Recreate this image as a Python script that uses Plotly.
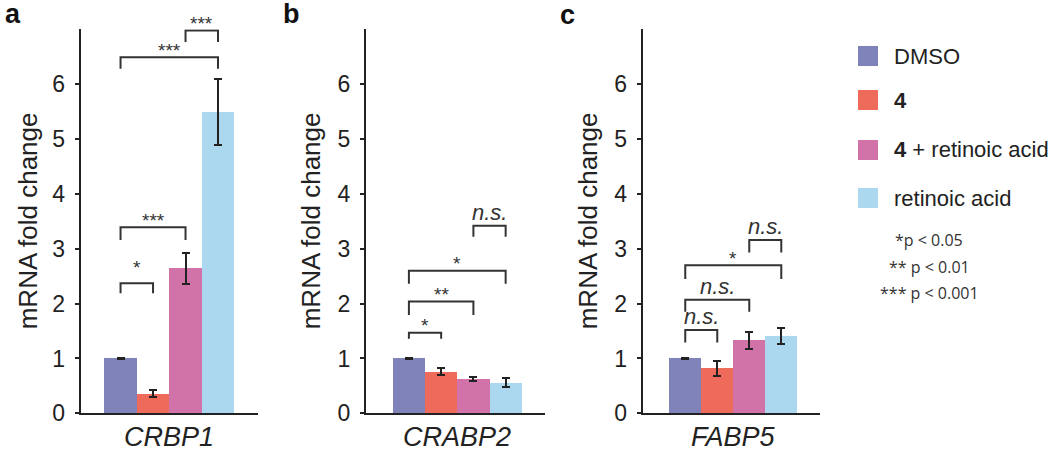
import plotly.graph_objects as go

W, H = 1050, 457

conditions = ["DMSO", "4", "4 + retinoic acid", "retinoic acid"]
legend_labels = ["DMSO", "<b>4</b>", "<b>4</b> + retinoic acid", "retinoic acid"]
genes = ["CRBP1", "CRABP2", "FABP5"]
panel_letters = ["a", "b", "c"]

crbp1_mean = [1.00, 0.36, 2.64, 5.49]
crbp1_err = [0.01, 0.07, 0.28, 0.60]
crabp2_mean = [1.00, 0.76, 0.63, 0.56]
crabp2_err = [0.01, 0.07, 0.04, 0.085]
fabp5_mean = [1.00, 0.82, 1.33, 1.41]
fabp5_err = [0.01, 0.14, 0.15, 0.14]

bracket_pairs = [(0, 1), (0, 2), (0, 3), (2, 3)]
crbp1_top = [2.37, 3.39, 6.49, 6.98]
crbp1_leg = [2.19, 3.16, 6.28, 6.77]
crbp1_sig = ["*", "***", "***", "***"]
crabp2_top = [1.47, 2.04, 2.60, 3.42]
crabp2_leg = [1.36, 1.79, 2.36, 3.22]
crabp2_sig = ["*", "**", "*", "n.s."]
fabp5_top = [1.52, 2.07, 2.70, 3.16]
fabp5_leg = [1.29, 1.85, 2.45, 2.93]
fabp5_sig = ["n.s.", "n.s.", "*", "n.s."]

pvalue_notes = ["*p < 0.05", "** p < 0.01", "*** p < 0.001"]

colors = ["#7f83b9", "#ee6b5b", "#d173a8", "#acd8ef"]
ink = "#222222"
FONT = "Liberation Sans, Arial, sans-serif"

means = [crbp1_mean, crabp2_mean, fabp5_mean]
errs = [crbp1_err, crabp2_err, fabp5_err]
tops = [crbp1_top, crabp2_top, fabp5_top]
legs = [crbp1_leg, crabp2_leg, fabp5_leg]
sigs = [crbp1_sig, crabp2_sig, fabp5_sig]

# layout (pixel geometry)
axis_px = [(80.7, 258.0), (366.0, 545.0), (642.7, 820.0)]
xranges = [[-1.226, 4.23], [-1.33, 4.22], [-1.33, 4.21]]
y_bottom_px, y_top_px = 413.3, 29.3
ytitle_px = [28, 311, 588]
letter_px = [(13, 14), (291, 14), (567, 15)]

def px(x):
    return x / W

def py(y):
    return 1 - y / H

fig = go.Figure()
layout = dict(
    width=W, height=H,
    margin=dict(l=0, r=0, t=0, b=0, pad=0),
    paper_bgcolor="white", plot_bgcolor="white",
    showlegend=False,
    font=dict(family=FONT, color=ink),
    bargap=0,
)
annotations = []
shapes = []
xpos = [0, 1, 2, 3]

for k in range(3):
    xa = "x" if k == 0 else f"x{k+1}"
    ya = "y" if k == 0 else f"y{k+1}"
    xkey = "xaxis" if k == 0 else f"xaxis{k+1}"
    ykey = "yaxis" if k == 0 else f"yaxis{k+1}"
    fig.add_trace(go.Bar(
        x=xpos, y=means[k], width=1.0,
        marker=dict(color=colors, line=dict(width=0)),
        error_y=dict(type="data", array=errs[k], visible=True,
                     color=ink, thickness=2, width=4),
        xaxis=xa, yaxis=ya, showlegend=False,
    ))
    layout[xkey] = dict(
        domain=[px(axis_px[k][0]), px(axis_px[k][1])],
        range=xranges[k], anchor=ya, automargin=False,
        showline=True, linecolor=ink, linewidth=2,
        showticklabels=False, ticks="", showgrid=False, zeroline=False,
        fixedrange=True,
    )
    layout[ykey] = dict(
        domain=[py(y_bottom_px), py(y_top_px)],
        range=[0, 7.0], anchor=xa, automargin=False,
        showline=True, linecolor=ink, linewidth=2,
        tickvals=[0, 1, 2, 3, 4, 5, 6], ticks="outside", ticklen=4,
        tickwidth=2, tickcolor=ink, ticklabelstandoff=5,
        tickfont=dict(size=23, color=ink, family=FONT),
        showgrid=False, zeroline=False, fixedrange=True,
    )
    # y title
    annotations.append(dict(
        text="mRNA fold change", textangle=-90,
        x=px(ytitle_px[k]), y=py((y_bottom_px + y_top_px) / 2),
        xref="paper", yref="paper", xanchor="center", yanchor="middle",
        showarrow=False, font=dict(size=26, color=ink, family=FONT),
    ))
    # gene label
    annotations.append(dict(
        text=f"<i>{genes[k]}</i>", x=1.5, y=py(437),
        xref=xa, yref="paper", xanchor="center", yanchor="middle",
        showarrow=False, font=dict(size=27, color=ink, family=FONT),
    ))
    # panel letter
    annotations.append(dict(
        text=f"<b>{panel_letters[k]}</b>", x=px(letter_px[k][0]), y=py(letter_px[k][1]),
        xref="paper", yref="paper", xanchor="center", yanchor="middle",
        showarrow=False, font=dict(size=27, color="#111111", family=FONT),
    ))
    # significance brackets
    for b, (i, j) in enumerate(bracket_pairs):
        t, l = tops[k][b], legs[k][b]
        shapes.append(dict(
            type="path", xref=xa, yref=ya,
            path=f"M {i},{l} L {i},{t} L {j},{t} L {j},{l}",
            line=dict(color="#333333", width=2),
        ))
        lab = sigs[k][b]
        if lab == "n.s.":
            annotations.append(dict(
                text=f"<i>{lab}</i>", x=(i + j) / 2, y=t, xref=xa, yref=ya,
                xanchor="center", yanchor="middle", yshift=13, showarrow=False,
                font=dict(size=22, color="#333333", family=FONT),
            ))
        else:
            lift = 16 if (k == 0 and b == 0) else 7
            annotations.append(dict(
                text=lab, x=(i + j) / 2, y=t, xref=xa, yref=ya,
                xanchor="center", yanchor="middle", yshift=lift, showarrow=False,
                font=dict(size=19, color="#333333", family=FONT),
            ))

# legend
legend_y = [56, 100, 150, 198]
for n in range(4):
    shapes.append(dict(
        type="rect", xref="paper", yref="paper",
        x0=px(858), x1=px(878), y0=py(legend_y[n] - 10), y1=py(legend_y[n] + 10),
        fillcolor=colors[n], line=dict(width=0),
    ))
    annotations.append(dict(
        text=legend_labels[n], x=px(892), y=py(legend_y[n]),
        xref="paper", yref="paper", xanchor="left", yanchor="middle",
        showarrow=False, font=dict(size=22, color=ink, family=FONT),
    ))

note_y = [240, 267, 293]
for n in range(3):
    annotations.append(dict(
        text=pvalue_notes[n], x=px(929), y=py(note_y[n]),
        xref="paper", yref="paper", xanchor="center", yanchor="middle",
        showarrow=False, font=dict(size=16, color="#333333", family="Open Sans, sans-serif"),
    ))

layout["annotations"] = annotations
layout["shapes"] = shapes
fig.update_layout(**layout)
fig.write_html(
    "out.html",
    config={"displayModeBar": False, "staticPlot": True},
    post_script="document.body.style.margin='0';document.body.style.overflow='hidden';",
)
